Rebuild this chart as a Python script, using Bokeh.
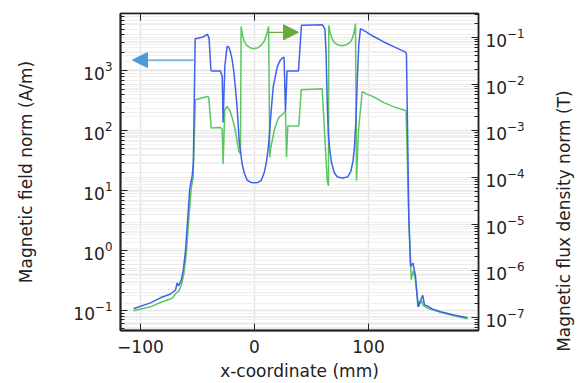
import math
from bokeh.plotting import figure
from bokeh.models import (Range1d, LogAxis, LinearAxis, LogScale, LinearScale, LogTicker,
                          FixedTicker, Grid, Arrow, NormalHead, ColumnDataSource)
from bokeh.embed import file_html
from bokeh.resources import INLINE

# ---- data ----
x_H = [-106.1, -91.2, -82.5, -73.7, -69.3, -67.8, -66.4, -64.3, -62.5, -60.5, -58.5, -56.8,
       -54.6, -53.6, -52.0, -51.8, -45.0, -41.2, -39.8, -38.2, -37.7, -29.8, -28.3, -27.5,
       -26.0, -24.0, -22.5, -21.1, -19.6, -18.1, -16.7, -15.2, -13.4, -12.0, -10.8, -9.0,
       -6.4, -3.0, 0.0, 3.0, 6.0, 8.5, 10.5, 12.0, 13.2, 14.5, 16.5, 19.9, 22.5, 25.2,
       26.0, 27.2, 28.6, 38.6, 41.2, 59.6, 61.8, 62.8, 63.8, 64.8, 65.8, 67.5, 70.0, 72.8,
       77.2, 81.6, 84.5, 86.5, 87.7, 89.0, 90.3, 91.5, 93.0, 98.0, 103.8, 113.4, 123.0,
       132.5, 133.3, 135.4, 136.9, 139.0, 141.2, 143.4, 145.6, 147.6, 149.1, 151.5, 155.9,
       163.2, 175.0, 186.8]
H = [0.108, 0.135, 0.164, 0.19, 0.22, 0.29, 0.26, 0.32, 0.46, 1.0, 3.5, 10.7,
     18, 30, 3400, 3450, 3700, 4100, 3500, 1050, 1000, 1000, 800, 138,
     1200, 2590, 2500, 2080, 1550, 970, 520, 245, 68, 42, 28, 20,
     15, 13.8, 13.6, 13.8, 15, 20, 30, 50, 90, 200, 550, 1160, 1500, 1700,
     1650, 210, 1000, 1000, 5800, 5900, 5000, 2000, 300, 90, 53, 30, 20, 17,
     16.4, 17, 21, 32, 53, 150, 800, 2800, 5100, 4500, 3830, 3050, 2500,
     2060, 1900, 3.5, 0.55, 0.62, 0.38, 0.117, 0.147, 0.18, 0.125, 0.12, 0.107,
     0.096, 0.085, 0.076]

x_B = [-106.1, -91.2, -82.5, -72.2, -69.3, -67.8, -66.4, -64.3, -62.0, -59.6, -57.6, -55.5,
       -53.8, -51.8, -41.5, -40.1, -38.0, -29.8, -28.3, -27.5, -26.0, -24.0, -21.5, -19.6,
       -18.0, -16.7, -15.2, -13.8, -12.3, -11.7, -10.5, -9.0, -7.0, -4.0, -0.6, 3.0, 6.0,
       8.5, 10.5, 12.4, 13.4, 14.2, 15.5, 17.5, 19.9, 22.0, 24.3, 27.2, 28.1,
       29.2, 38.9, 41.0, 59.4, 63.8, 64.9, 65.2, 66.5, 68.0, 69.6, 73.0, 76.9, 80.5, 84.2,
       85.8, 87.3, 88.6, 89.5, 91.2, 94.5, 99.0, 104.7, 113.4, 123.0, 132.5, 133.0, 135.4,
       137.5, 139.2, 141.2, 143.9, 146.6, 148.2, 151.5, 163.2, 175.0, 186.8]
B = [1.41e-7, 1.7e-7, 2.1e-7, 2.6e-7, 3.2e-7, 3.5e-7, 3.7e-7, 4.8e-7, 8.3e-7, 2.6e-6, 1.3e-5, 5.7e-5,
     1.0e-4, 4.6e-3, 5.4e-3, 5.2e-3, 1.15e-3, 1.17e-3, 1.07e-3, 1.95e-4, 2.8e-3, 3.3e-3, 2.7e-3, 1.9e-3,
     1.4e-3, 9.8e-4, 6.0e-4, 3.7e-4, 3.2e-4, 0.17, 0.11, 0.082, 0.068, 0.06, 0.057, 0.06, 0.068,
     0.082, 0.11, 0.17, 2.7e-4, 4.2e-4, 6.0e-4, 1.05e-3, 1.6e-3, 2.0e-3, 2.2e-3, 2.6e-3, 2.7e-4,
     1.26e-3, 1.26e-3, 7.5e-3, 7.9e-3, 8.5e-5, 6.6e-5, 0.18, 0.12, 0.095, 0.079, 0.069, 0.066, 0.069, 0.079,
     0.095, 0.125, 0.195, 8.5e-5, 1.0e-3, 6.9e-3, 6.0e-3, 5.3e-3, 4.0e-3, 3.2e-3, 2.7e-3, 2.5e-3, 1.3e-5,
     6.5e-7, 1.0e-6, 6.5e-7, 1.7e-7, 2.3e-7, 1.8e-7, 1.6e-7, 1.3e-7, 1.1e-7, 9.5e-8]

x_ticks = [-100, 0, 100]
x_label = "x-coordinate (mm)"
h_label = "Magnetic field norm (A/m)"
b_label = "Magnetic flux density norm (T)"

X_MIN, X_MAX = -117.5, 196.5
H_MIN, H_MAX = 0.0467, 9100
B_MIN, B_MAX = 5.3e-8, 0.323

# annotation arrow anchors (data space)
H_ARROW = dict(x_start=-53.3, x_end=-107.0, y=1520)
B_ARROW = dict(x_start=12.3, x_end=38.6, y=0.128)

FONT = "DejaVu Sans"
TXT = "#222222"
FS = "17px"

p = figure(width=588, height=383, output_backend="svg", toolbar_location=None,
           x_range=Range1d(X_MIN, X_MAX), y_range=Range1d(H_MIN, H_MAX),
           y_axis_type="log", min_border_left=120, min_border_right=110,
           min_border_top=13, min_border_bottom=50)
p.extra_y_ranges = {"B": Range1d(B_MIN, B_MAX), "T": Range1d(0, 1)}
p.extra_y_scales = {"B": LogScale(), "T": LinearScale()}
p.background_fill_color = "white"
p.border_fill_color = "white"
p.outline_line_color = "#222222"
p.outline_line_width = 1.5

# grids
p.xgrid.ticker = FixedTicker(ticks=x_ticks)
p.xgrid.grid_line_color = "#e4e4e4"
p.xgrid.grid_line_width = 1.5
p.ygrid.grid_line_color = "#e6e6e6"
p.ygrid.grid_line_width = 1.5
p.ygrid.minor_grid_line_color = "#ededed"
p.ygrid.minor_grid_line_width = 1

def style_axis(ax, minor=True):
    ax.axis_line_color = "#222222"
    ax.axis_line_width = 2
    ax.major_tick_in = 7
    ax.major_tick_out = 0
    ax.minor_tick_in = 4 if minor else 0
    ax.minor_tick_out = 0
    ax.major_tick_line_color = "#222222"
    ax.minor_tick_line_color = "#222222"
    ax.major_label_text_font = FONT
    ax.major_label_text_font_size = FS
    ax.major_label_text_color = TXT
    ax.axis_label_text_font = FONT
    ax.axis_label_text_font_size = FS
    ax.axis_label_text_font_style = "normal"
    ax.axis_label_text_color = TXT

# bottom axis
xa = p.xaxis[0]
xa.ticker = FixedTicker(ticks=x_ticks)
style_axis(xa, minor=False)
xa.axis_label = x_label
xa.major_label_standoff = 9
xa.axis_label_standoff = 5

# left axis
ya = p.yaxis[0]
ya.ticker = LogTicker(desired_num_ticks=6, num_minor_ticks=10)
p.ygrid.ticker = ya.ticker
style_axis(ya)
ya.axis_label = h_label
ya.major_label_standoff = 8
ya.axis_label_standoff = 34

# right axis
rt = LogTicker(desired_num_ticks=8, num_minor_ticks=10)
ra = LogAxis(y_range_name="B", ticker=rt)
style_axis(ra)
ra.axis_line_width = 1.5
ra.major_label_standoff = 7
p.add_layout(ra, "right")
p.add_layout(Grid(dimension=1, ticker=rt, y_range_name="B",
                  grid_line_color="#eaeaea", grid_line_width=1,
                  minor_grid_line_color="#f0f0f0", minor_grid_line_width=1), "center")

# right title: a tick-less axis whose single label reads bottom-to-top
tt = LinearAxis(y_range_name="T", ticker=FixedTicker(ticks=[0.5]),
                major_label_overrides={0.5: b_label})
style_axis(tt, minor=False)
tt.axis_line_color = None
tt.major_tick_in = 0
tt.major_label_orientation = math.pi / 2
tt.major_label_standoff = 37
tt.major_label_text_baseline = "top"
p.add_layout(tt, "right")

# top axis (ticks only, labels not drawn)
ta = LinearAxis(ticker=FixedTicker(ticks=x_ticks))
style_axis(ta, minor=False)
ta.axis_line_width = 1.5
ta.major_label_text_font_size = "1px"
ta.major_label_text_color = None
ta.major_label_standoff = 0
p.add_layout(ta, "above")

# curves
src_H = ColumnDataSource(dict(x=x_H, y=H))
src_B = ColumnDataSource(dict(x=x_B, y=B))
p.line("x", "y", source=src_B, y_range_name="B", line_color="#5cc760", line_width=1.5)
p.line("x", "y", source=src_H, line_color="#3f62ea", line_width=1.5)

# arrows
p.add_layout(Arrow(x_start=H_ARROW["x_start"], y_start=H_ARROW["y"],
                   x_end=H_ARROW["x_end"], y_end=H_ARROW["y"],
                   line_color="#4f9ad6", line_width=1.3,
                   end=NormalHead(size=15, fill_color="#4f9ad6", line_color="#4f9ad6")))
p.add_layout(Arrow(x_start=B_ARROW["x_start"], y_start=B_ARROW["y"],
                   x_end=B_ARROW["x_end"], y_end=B_ARROW["y"], y_range_name="B",
                   line_color="#6aaa3a", line_width=1.3,
                   end=NormalHead(size=15, fill_color="#6aaa3a", line_color="#6aaa3a")))

open("out.html", "w").write(file_html(p, INLINE))
